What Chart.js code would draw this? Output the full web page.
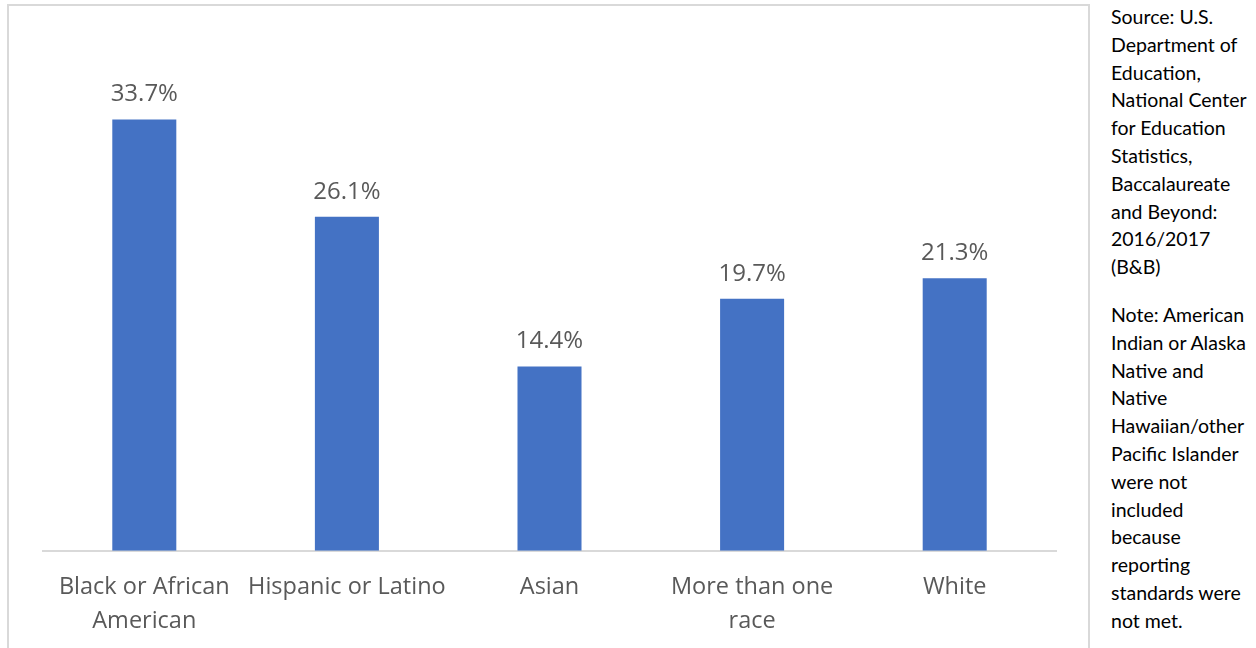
<!DOCTYPE html>
<html>
<head>
<meta charset="utf-8">
<script src="https://cdn.jsdelivr.net/npm/chart.js@4"></script>
<style>
    body { margin: 0; background: #fff; width: 1256px; height: 648px; overflow: hidden; position: relative; }
    .box { position: absolute; left: 7px; top: 4px; width: 1079px; height: 680px; border: 2px solid #d9d9d9; }
    .box canvas { position: absolute; left: 0; top: 0; }
    .side { position: absolute; left: 1111px; top: 3px; width: 145px; font-family: Lato, sans-serif; font-size: 19.5px; line-height: 27.8px; color: #000; }
    .side p { margin: 0 0 20px 0; }
</style>
</head>
<body>
<div class="box"><canvas id="bar-chart" width="1078" height="660"></canvas></div>
<div class="side">
    <p>Source: U.S.<br>Department of<br>Education,<br>National Center<br>for Education<br>Statistics,<br>Baccalaureate<br>and Beyond:<br>2016/2017<br>(B&amp;B)</p>
    <p>Note: American<br>Indian or Alaska<br>Native and<br>Native<br>Hawaiian/other<br>Pacific Islander<br>were not<br>included<br>because<br>reporting<br>standards were<br>not met.</p>
</div>
<script>
const categories = [
    ['Black or African', 'American'],
    'Hispanic or Latino',
    'Asian',
    ['More than one', 'race'],
    'White'
];
const percentValues = [33.7, 26.1, 14.4, 19.7, 21.3];

// draws "33.7%" style labels above each bar
const barLabels = {
    id: 'barLabels',
    afterDatasetsDraw(chart) {
        const ctx = chart.ctx;
        const meta = chart.getDatasetMeta(0);
        ctx.save();
        ctx.fillStyle = '#595959';
        ctx.font = '24px "Open Sans", sans-serif';
        ctx.textAlign = 'center';
        ctx.textBaseline = 'bottom';
        meta.data.forEach((bar, i) => {
            ctx.fillText(percentValues[i].toFixed(1) + '%', bar.x, bar.y - 13);
        });
        ctx.restore();
    }
};

const barCanvas = document.getElementById('bar-chart');
if(barCanvas != undefined) {
    const barChart = new Chart(barCanvas, {
        type: 'bar',
        data: {
            labels: categories,
            datasets: [{
                data: percentValues,
                backgroundColor: '#4472C4',
                borderWidth: 0,
                categoryPercentage: 1,
                barPercentage: 0.316
            }]
        },
        options: {
            responsive: false,
            animation: false,
            layout: {
                padding: { left: 34, right: 31, top: 33, bottom: 17 }
            },
            scales: {
                x: {
                    grid: { display: false },
                    border: { display: true, color: '#d9d9d9', width: 2 },
                    ticks: {
                        color: '#595959',
                        font: { family: '"Open Sans", sans-serif', size: 23.5, lineHeight: 1.45 },
                        maxRotation: 0,
                        autoSkip: false,
                        padding: 11
                    }
                },
                y: {
                    display: false,
                    min: 0,
                    max: 40
                }
            },
            plugins: {
                legend: { display: false },
                tooltip: { enabled: false }
            }
        },
        plugins: [barLabels]
    });
}
</script>
</body>
</html>
